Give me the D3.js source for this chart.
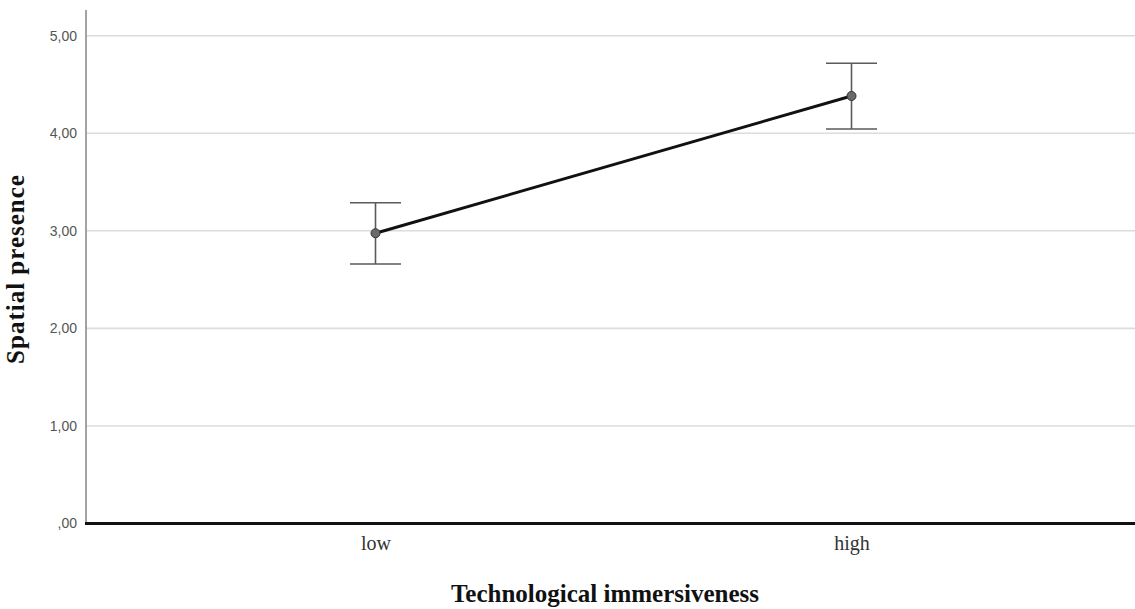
<!DOCTYPE html>
<html>
<head>
<meta charset="utf-8">
<script src="https://cdn.jsdelivr.net/npm/d3@7"></script>
<style>
  html, body { margin: 0; padding: 0; background: #fff; }
  svg { display: block; }
</style>
</head>
<body>
<svg id="chart" width="1135" height="609"></svg>
<script>
// Mean spatial presence by level of technological immersiveness, with error bars
const categories = ["low", "high"];
const means = [2.975, 4.382];
const upper = [3.288, 4.717];
const lower = [2.660, 4.044];
const yTicks = [0, 1, 2, 3, 4, 5];
const yTickLabels = [",00", "1,00", "2,00", "3,00", "4,00", "5,00"];

(function () {
const svg = d3.select("#chart");
const plotLeft = 86, plotRight = 1135, plotTop = 10, plotBottom = 523.5;

const x = d3.scalePoint().domain(categories).range([375.5, 851.5]);
const y = d3.scaleLinear().domain([0, 5]).range([plotBottom, 35.7]);

// Horizontal gridlines
svg.append("g").selectAll("line")
  .data(yTicks.filter(d => d > 0))
  .join("line")
  .attr("x1", plotLeft).attr("x2", plotRight)
  .attr("y1", d => y(d)).attr("y2", d => y(d))
  .attr("stroke", "#dcdcdc").attr("stroke-width", 1.6);

// Y axis
const yAxis = d3.axisLeft(y)
  .tickValues(yTicks)
  .tickSize(0)
  .tickPadding(9)
  .tickFormat((d, i) => yTickLabels[i]);
const gy = svg.append("g").attr("transform", `translate(${plotLeft},0)`).call(yAxis);
gy.select(".domain").remove();
gy.selectAll("text")
  .attr("font-family", "'Liberation Sans', Arial, sans-serif")
  .attr("font-size", 14)
  .attr("fill", "#555");

svg.append("line")
  .attr("x1", plotLeft).attr("x2", plotLeft)
  .attr("y1", plotTop).attr("y2", plotBottom)
  .attr("stroke", "#8c8c8c").attr("stroke-width", 1.6);

// X axis
const xAxis = d3.axisBottom(x).tickSize(0).tickPadding(12);
const gx = svg.append("g").attr("transform", `translate(0,${plotBottom})`).call(xAxis);
gx.select(".domain").remove();
gx.selectAll("text")
  .attr("font-family", "'Liberation Serif', 'Times New Roman', serif")
  .attr("font-size", 20)
  .attr("fill", "#333");

svg.append("line")
  .attr("x1", plotLeft - 1).attr("x2", plotRight)
  .attr("y1", plotBottom).attr("y2", plotBottom)
  .attr("stroke", "#111").attr("stroke-width", 3.2);

// Error bars
const eb = svg.append("g").attr("stroke", "#5a5a5a").attr("stroke-width", 1.6);
categories.forEach((c, i) => {
  const cx = x(c);
  eb.append("line").attr("x1", cx).attr("x2", cx).attr("y1", y(upper[i])).attr("y2", y(lower[i]));
  eb.append("line").attr("x1", cx - 25.5).attr("x2", cx + 25.5).attr("y1", y(upper[i])).attr("y2", y(upper[i]));
  eb.append("line").attr("x1", cx - 25.5).attr("x2", cx + 25.5).attr("y1", y(lower[i])).attr("y2", y(lower[i]));
});

// Mean line
const line = d3.line().x((d, i) => x(categories[i])).y(d => y(d));
svg.append("path")
  .datum(means)
  .attr("d", line)
  .attr("fill", "none")
  .attr("stroke", "#111")
  .attr("stroke-width", 3);

// Mean markers
svg.append("g").selectAll("circle")
  .data(means)
  .join("circle")
  .attr("cx", (d, i) => x(categories[i]))
  .attr("cy", d => y(d))
  .attr("r", 4.5)
  .attr("fill", "#6a6a6a")
  .attr("stroke", "#333")
  .attr("stroke-width", 1);

// Axis titles
svg.append("text")
  .attr("x", 605).attr("y", 602)
  .attr("text-anchor", "middle")
  .attr("font-family", "'Liberation Serif', 'Times New Roman', serif")
  .attr("font-weight", "bold")
  .attr("font-size", 25)
  .attr("fill", "#111")
  .text("Technological immersiveness");

svg.append("text")
  .attr("transform", "translate(24,269) rotate(-90)")
  .attr("text-anchor", "middle")
  .attr("font-family", "'Liberation Serif', 'Times New Roman', serif")
  .attr("font-weight", "bold")
  .attr("font-size", 25)
  .attr("letter-spacing", 1)
  .attr("fill", "#111")
  .text("Spatial presence");
})();
</script>
</body>
</html>
